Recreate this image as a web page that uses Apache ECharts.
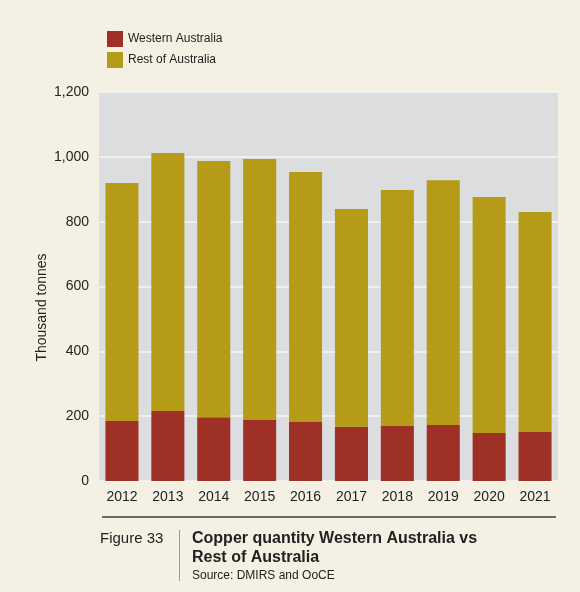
<!DOCTYPE html>
<html>
<head>
<meta charset="utf-8">
<script src="https://cdn.jsdelivr.net/npm/echarts@6/dist/echarts.min.js"></script>
<style>
html,body{margin:0;padding:0;background:#F4F1E4;}
#c{width:580px;height:592px;}
</style>
</head>
<body>
<div id="c"></div>
<script>
const years = ['2012','2013','2014','2015','2016','2017','2018','2019','2020','2021'];
const westernAustralia = [185, 216, 197, 188, 182, 167, 170, 173, 148, 151];
const restOfAustralia = [734, 796, 790, 805, 771, 672, 728, 755, 728, 679];
const yTicks = [0, 200, 400, 600, 800, 1000, 1200];

const font = 'Liberation Sans, Arial, sans-serif';
const chart = echarts.init(document.getElementById('c'), null, {renderer: 'canvas'});
chart.setOption({
  backgroundColor: '#F4F1E4',
  animation: false,
  textStyle: {fontFamily: font},
  legend: {
    orient: 'vertical',
    left: 107, top: 31, padding: 0,
    itemWidth: 16, itemHeight: 16, itemGap: 5,
    icon: 'rect',
    textStyle: {fontSize: 12, color: '#222', fontFamily: font},
    data: ['Western Australia', 'Rest of Australia']
  },
  grid: {
    left: 99, right: 22, top: 92, bottom: 111,
    show: true, backgroundColor: '#DCDDDF', borderWidth: 0
  },
  xAxis: {
    type: 'category',
    data: years,
    axisLine: {show: false},
    axisTick: {show: false},
    axisLabel: {fontSize: 14, color: '#222', margin: 9, fontFamily: font}
  },
  yAxis: {
    type: 'value',
    min: yTicks[0], max: yTicks[yTicks.length - 1], interval: 200,
    name: 'Thousand tonnes',
    nameLocation: 'middle',
    nameGap: 50,
    nameMoveOverlap: false,
    nameTextStyle: {fontSize: 14, color: '#222', fontFamily: font, padding: [0, 42, 0, 0]},
    axisLine: {show: false},
    axisTick: {show: false},
    axisLabel: {
      fontSize: 14, color: '#222', margin: 10, fontFamily: font,
      formatter: v => v.toLocaleString('en-US')
    },
    splitLine: {lineStyle: {color: '#F4F4F4', width: 1.5}}
  },
  series: [
    {
      name: 'Western Australia', type: 'bar', stack: 'total',
      data: westernAustralia, barWidth: '72%',
      itemStyle: {color: '#9E3026'}
    },
    {
      name: 'Rest of Australia', type: 'bar', stack: 'total',
      data: restOfAustralia, barWidth: '72%',
      itemStyle: {color: '#B59B17'}
    }
  ],
  graphic: [
    {type: 'line', shape: {x1: 102, y1: 517, x2: 556, y2: 517}, style: {stroke: '#6A6A66', lineWidth: 2}},
    {type: 'line', shape: {x1: 179.5, y1: 530, x2: 179.5, y2: 581}, style: {stroke: '#999', lineWidth: 1}},
    {type: 'text', left: 100, top: 531, style: {text: 'Figure 33', font: '15px ' + font, fill: '#222'}},
    {type: 'text', left: 192, top: 529, style: {text: 'Copper quantity Western Australia vs\nRest of Australia', font: 'bold 16px ' + font, fill: '#222', lineHeight: 19}},
    {type: 'text', left: 192, top: 570, style: {text: 'Source: DMIRS and OoCE', font: '12px ' + font, fill: '#222'}}
  ]
});
</script>
</body>
</html>
